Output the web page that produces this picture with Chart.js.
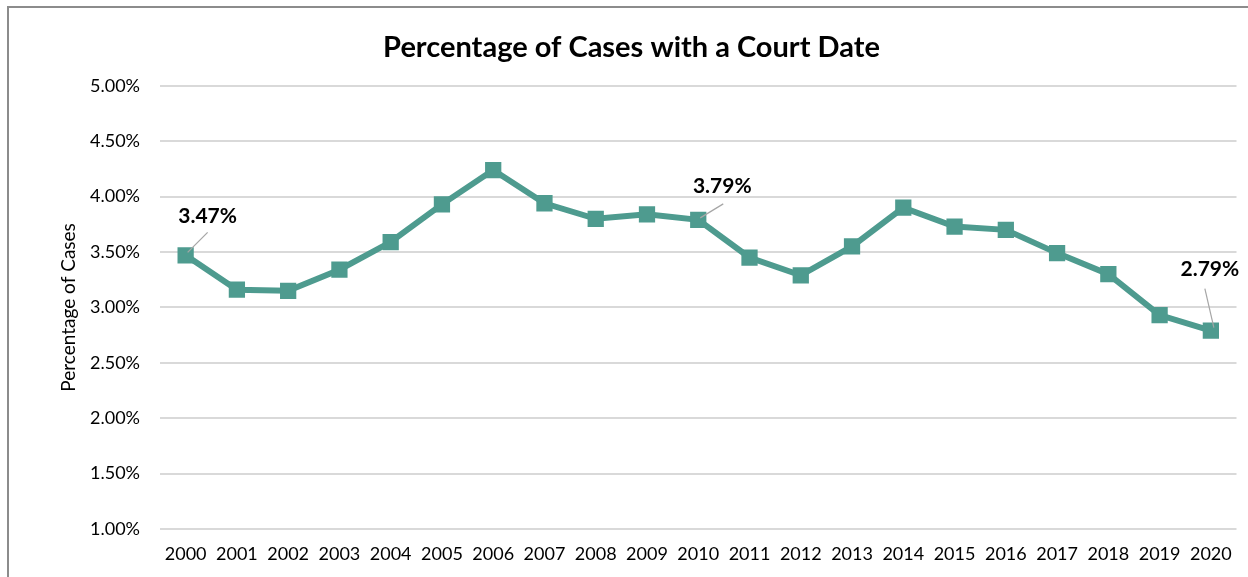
<!DOCTYPE html>
<html>
<head>
<meta charset="utf-8">
<script src="https://cdn.jsdelivr.net/npm/chart.js@4"></script>
<style>
  html, body { margin: 0; padding: 0; background: #fff; }
  #wrap { width: 1248px; height: 577px; position: relative; }
</style>
</head>
<body>
<div id="wrap"><canvas id="c" width="1248" height="577"></canvas></div>
<script>
const years = ['2000','2001','2002','2003','2004','2005','2006','2007','2008','2009','2010','2011','2012','2013','2014','2015','2016','2017','2018','2019','2020'];
const pctCases = [3.47,3.16,3.15,3.34,3.59,3.93,4.24,3.94,3.80,3.84,3.79,3.45,3.29,3.55,3.90,3.73,3.70,3.49,3.30,2.93,2.79];
const labelledIndexes = [0, 10, 20];
const labelTexts = ['3.47%', '3.79%', '2.79%'];
const yTicks = [1.0,1.5,2.0,2.5,3.0,3.5,4.0,4.5,5.0];

const labelOffsets = [ {dx: 22, dy: -39, lx1: 2, ly1: -3, lx2: 22, ly2: -23},
                       {dx: 24, dy: -34, lx1: 2, ly1: -2, lx2: 25, ly2: -16},
                       {dx: -1, dy: -61, lx1: 3, ly1: -3, lx2: -6, ly2: -42} ];

const framePlugin = {
  id: 'frame',
  beforeDraw(chart) {
    const ctx = chart.ctx;
    ctx.save();
    ctx.strokeStyle = '#8c8c8c';
    ctx.lineWidth = 2;
    ctx.beginPath();
    ctx.moveTo(8, 577);
    ctx.lineTo(8, 7);
    ctx.lineTo(1248, 7);
    ctx.stroke();
    ctx.restore();
  }
};

const labelPlugin = {
  id: 'pointLabels',
  afterDatasetsDraw(chart) {
    const ctx = chart.ctx;
    const meta = chart.getDatasetMeta(0);
    ctx.save();
    labelledIndexes.forEach((idx, k) => {
      const pt = meta.data[idx];
      const o = labelOffsets[k];
      ctx.strokeStyle = '#a6a6a6';
      ctx.lineWidth = 1.2;
      ctx.beginPath();
      ctx.moveTo(pt.x + o.lx1, pt.y + o.ly1);
      ctx.lineTo(pt.x + o.lx2, pt.y + o.ly2);
      ctx.stroke();
      ctx.fillStyle = '#000';
      ctx.font = 'bold 21px Lato';
      ctx.textAlign = 'center';
      ctx.textBaseline = 'middle';
      ctx.fillText(labelTexts[k], pt.x + o.dx, pt.y + o.dy);
    });
    ctx.restore();
  }
};

new Chart(document.getElementById('c'), {
  type: 'line',
  data: {
    labels: years,
    datasets: [{
      data: pctCases,
      borderColor: '#4e9b8f',
      backgroundColor: '#4e9b8f',
      borderWidth: 6,
      pointStyle: 'rect',
      pointRadius: 11.5,
      pointHoverRadius: 11.5,
      pointBorderWidth: 0,
      tension: 0,
      fill: false
    }]
  },
  options: {
    responsive: false,
    animation: false,
    events: [],
    layout: { padding: { left: 24, right: 9, top: 0, bottom: 0 } },
    plugins: {
      legend: { display: false },
      tooltip: { enabled: false },
      title: {
        display: true,
        text: 'Percentage of Cases with a Court Date',
        color: '#000',
        font: { family: 'Lato', size: 29, weight: 'bold' },
        padding: { top: 30, bottom: 21 }
      }
    },
    scales: {
      x: {
        offset: true,
        grid: { display: false, drawTicks: false },
        border: { display: false },
        ticks: { color: '#000', font: { family: 'Lato', size: 18 }, padding: 14, maxRotation: 0, autoSkip: false },
        afterFit(scale) { scale.height = 48; }
      },
      y: {
        min: 1, max: 5,
        afterBuildTicks(scale) { scale.ticks = yTicks.map(v => ({ value: v })); },
        grid: { color: '#d9d9d9', lineWidth: 2, drawTicks: false },
        border: { display: false },
        ticks: {
          color: '#000', font: { family: 'Lato', size: 18 }, padding: 20,
          callback: v => Number(v).toFixed(2) + '%'
        },
        title: {
          display: true, text: 'Percentage of Cases', color: '#000',
          font: { family: 'Lato', size: 19 }, padding: { top: 33, bottom: 0 }
        },
        afterFit(scale) { scale.width = 136; }
      }
    }
  },
  plugins: [framePlugin, labelPlugin]
});
</script>
</body>
</html>
